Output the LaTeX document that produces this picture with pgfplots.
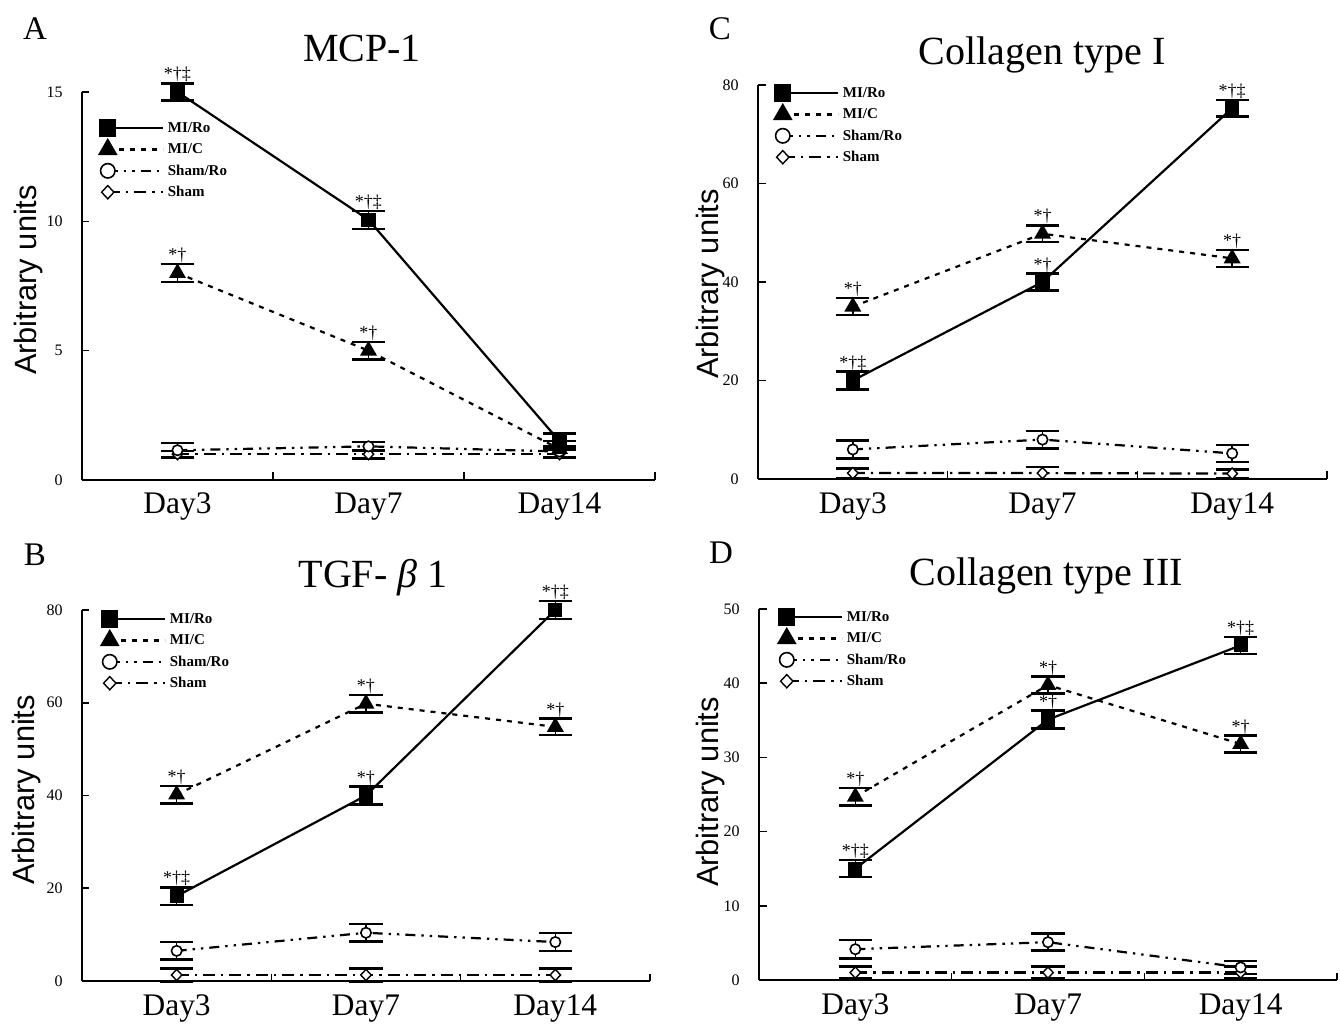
\documentclass[border=0pt]{standalone}
\usepackage{fontspec}
\setmainfont{Liberation Serif}
\newfontfamily\arial{Liberation Sans}
\usepackage{pgfplots}
\pgfplotsset{compat=1.18}

\pgfplotsset{
 miro/.style={black, line width=1.1pt, solid, mark=square*, mark size=3pt, mark options={solid, fill=black}},
 mic/.style={black, line width=1.1pt, dash pattern=on 2.5pt off 3pt, mark=triangle*, mark size=3.8pt, mark options={solid, fill=black}},
 shamro/.style={black, line width=1.1pt, dash pattern=on 5pt off 3pt on 1.2pt off 3pt on 1.2pt off 3pt, mark=*, mark size=2.6pt, mark options={solid, fill=white, draw=black, line width=0.8pt}},
 sham/.style={black, line width=1.1pt, dash pattern=on 6pt off 3pt on 1.2pt off 3pt, mark=diamond*, mark size=2.8pt, mark options={solid, fill=white, draw=black, line width=0.7pt, xscale=1.25}},
 eb/.style={error bars/y dir=both, error bars/y explicit,
   error bars/error bar style={solid, line width=0.8pt, black},
   error bars/error mark options={rotate=90, solid, line width=1.2pt, mark size=8.3pt, black}},
 panel/.style={
  scale only axis,
  axis lines=left,
  axis line style={-, line width=0.8pt},
  xmin=-0.5, xmax=2.5, ymin=0,
  xtick={0.5,1.5,2.5}, xticklabels={},
  extra x ticks={0,1,2}, extra x tick labels={Day3,Day7,Day14},
  extra x tick style={major tick length=0pt, xticklabel style={font=\fontsize{15.7}{18}\selectfont, anchor=base, yshift=-17pt}},
  tick align=inside, major tick length=3.75pt, tick style={line width=0.8pt, black},
  yticklabel style={font=\fontsize{8}{9}\selectfont, inner sep=0pt, xshift=-9.5pt},
  /pgf/number format/assume math mode=true,
  clip=false,
  legend style={draw=none, fill=none, inner sep=0pt, outer sep=0pt, row sep=1.2pt, column sep=1pt,
    font=\bfseries\fontsize{7.5}{8}\selectfont,
    nodes={inner sep=1pt, text height=6pt, text depth=1.5pt}, cells={anchor=west}},
  legend image code/.code={\draw[##1] (0pt,0pt) -- (27.5pt,0pt); \draw[##1] plot coordinates {(0pt,0pt)};},
 },
}
\tikzset{ann/.style={anchor=south, font=\fontsize{9}{10}\selectfont, inner sep=0.5pt}}
\newcommand{\ann}[3]{\node[ann] at (axis cs:#1,#2) {#3};}
\newcommand{\leg}{%
 \addlegendimage{miro, mark size=3.75pt}\addlegendentry{MI/Ro}
 \addlegendimage{mic, mark size=4.6pt}\addlegendentry{MI/C}
 \addlegendimage{shamro, mark size=3.6pt}\addlegendentry{Sham/Ro}
 \addlegendimage{sham, mark size=3.3pt}\addlegendentry{Sham}}

\begin{document}
\begin{tikzpicture}
\useasboundingbox (0,0) rectangle (670pt,-513.5pt);

% ---------- A ----------
\begin{axis}[panel, at={(41pt,-240pt)}, anchor=south west, width=286.5pt, height=194pt,
  ymax=15, ytick={0,5,10,15},
  legend style={at={(axis description cs:0,1)}, anchor=north west, xshift=8.9pt, yshift=-13.25pt}]
\leg
\addplot[sham, eb, forget plot] coordinates {(0,1.0)+-(0,0.12) (1,1.0)+-(0,0.17) (2,1.0)+-(0,0.15)};
\addplot[shamro, eb, forget plot] coordinates {(0,1.15)+-(0,0.28) (1,1.3)+-(0,0.18) (2,1.1)+-(0,0.2)};
\addplot[mic, eb, forget plot] coordinates {(0,8.0)+-(0,0.34) (1,5.0)+-(0,0.34) (2,1.2)+-(0,0.3)};
\addplot[miro, eb, forget plot] coordinates {(0,15)+-(0,0.33) (1,10.06)+-(0,0.35) (2,1.5)+-(0,0.3)};
\ann{0}{15.33}{*†‡}\ann{1}{10.41}{*†‡}\ann{0}{8.34}{*†}\ann{1}{5.34}{*†}
\end{axis}

% ---------- C ----------
\begin{axis}[panel, at={(379pt,-239.5pt)}, anchor=south west, width=284.5pt, height=197pt,
  ymax=80, ytick={0,20,40,60,80},
  legend style={at={(axis description cs:0,1)}, anchor=north west, xshift=8.4pt, yshift=0.75pt}]
\leg
\addplot[sham, eb, forget plot] coordinates {(0,1.2)+-(0,0.95) (1,1.2)+-(0,1.2) (2,1.1)+-(0,0.85)};
\addplot[shamro, eb, forget plot] coordinates {(0,6)+-(0,1.8) (1,8)+-(0,1.8) (2,5.2)+-(0,1.75)};
\addplot[mic, eb, forget plot] coordinates {(0,35)+-(0,1.7) (1,49.8)+-(0,1.7) (2,44.8)+-(0,1.75)};
\addplot[miro, eb, forget plot] coordinates {(0,20)+-(0,1.8) (1,40)+-(0,1.7) (2,75.3)+-(0,1.7)};
\ann{0}{21.8}{*†‡}\ann{1}{41.7}{*†}\ann{2}{77}{*†‡}
\ann{0}{36.7}{*†}\ann{1}{51.5}{*†}\ann{2}{46.55}{*†}
\end{axis}

% ---------- B ----------
\begin{axis}[panel, at={(41pt,-490.5pt)}, anchor=south west, width=284pt, height=185.5pt,
  ymax=80, ytick={0,20,40,60,80},
  legend style={at={(axis description cs:0,1)}, anchor=north west, xshift=9.9pt, yshift=0.25pt}]
\leg
\addplot[sham, eb, forget plot] coordinates {(0,1.3)+-(0,1.4) (1,1.3)+-(0,1.4) (2,1.3)+-(0,1.4)};
\addplot[shamro, eb, forget plot] coordinates {(0,6.5)+-(0,1.85) (1,10.4)+-(0,1.85) (2,8.4)+-(0,1.9)};
\addplot[mic, eb, forget plot] coordinates {(0,40.2)+-(0,1.9) (1,59.8)+-(0,1.9) (2,54.8)+-(0,1.8)};
\addplot[miro, eb, forget plot] coordinates {(0,18.3)+-(0,1.9) (1,40)+-(0,1.9) (2,80)+-(0,1.9)};
\ann{0}{20.2}{*†‡}\ann{1}{41.9}{*†}\ann{2}{81.9}{*†‡}
\ann{0}{42.1}{*†}\ann{1}{61.7}{*†}\ann{2}{56.6}{*†}
\end{axis}

% ---------- D ----------
\begin{axis}[panel, at={(379.5pt,-490pt)}, anchor=south west, width=289pt, height=185.5pt,
  ymax=50, ytick={0,10,20,30,40,50},
  legend style={at={(axis description cs:0,1)}, anchor=north west, xshift=9.9pt, yshift=0.75pt}]
\leg
\addplot[sham, eb, forget plot] coordinates {(0,1.0)+-(0,0.8) (1,1.0)+-(0,0.8) (2,1.0)+-(0,0.8)};
\addplot[shamro, eb, forget plot] coordinates {(0,4.15)+-(0,1.25) (1,5.1)+-(0,1.15) (2,1.7)+-(0,0.9)};
\addplot[mic, eb, forget plot] coordinates {(0,24.7)+-(0,1.2) (1,39.75)+-(0,1.15) (2,31.8)+-(0,1.15)};
\addplot[miro, eb, forget plot] coordinates {(0,15)+-(0,1.15) (1,35.1)+-(0,1.2) (2,45.1)+-(0,1.15)};
\ann{0}{16.15}{*†‡}\ann{1}{36.3}{*†}\ann{2}{46.25}{*†‡}
\ann{0}{25.9}{*†}\ann{1}{40.9}{*†}\ann{2}{32.95}{*†}
\end{axis}

% titles, panel letters, y labels
\begin{scope}[every node/.style={inner sep=0pt}]
\node[anchor=base, font=\fontsize{20}{24}\selectfont] at (181pt,-31pt) {MCP-1};
\node[anchor=base, font=\fontsize{20}{24}\selectfont] at (521pt,-32.5pt) {Collagen type I};
\node[anchor=base, font=\fontsize{20}{24}\selectfont] at (186.5pt,-293.5pt) {TGF- {\itshape β} 1};
\node[anchor=base, font=\fontsize{20}{24}\selectfont] at (523pt,-292.5pt) {Collagen type III};
\node[anchor=base, font=\fontsize{16.5}{20}\selectfont] at (17.5pt,-20pt) {A};
\node[anchor=base, font=\fontsize{16.5}{20}\selectfont] at (360pt,-20pt) {C};
\node[anchor=base, font=\fontsize{16.5}{20}\selectfont] at (17.5pt,-282.5pt) {B};
\node[anchor=base, font=\fontsize{16.5}{20}\selectfont] at (360.5pt,-281.5pt) {D};
\node[rotate=90, font=\arial\fontsize{15.4}{18}\selectfont] at (14.5pt,-140pt) {Arbitrary units};
\node[rotate=90, font=\arial\fontsize{15.4}{18}\selectfont] at (355.5pt,-142pt) {Arbitrary units};
\node[rotate=90, font=\arial\fontsize{15.4}{18}\selectfont] at (13.5pt,-395pt) {Arbitrary units};
\node[rotate=90, font=\arial\fontsize{15.4}{18}\selectfont] at (355.5pt,-396pt) {Arbitrary units};
\end{scope}
\end{tikzpicture}
\end{document}
